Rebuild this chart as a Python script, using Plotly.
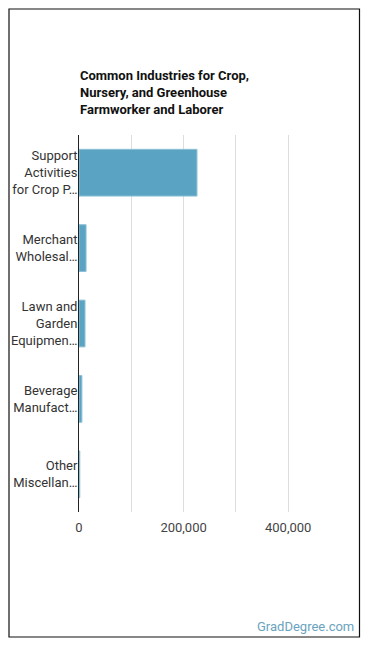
import plotly.graph_objects as go

categories = ["Support<br>Activities<br>for Crop P…", "Merchant<br>Wholesal…", "Lawn and<br>Garden<br>Equipmen…",
              "Beverage<br>Manufact…", "Other<br>Miscellan…"]
values = [225600, 13500, 11500, 5500, 1500]
tick_vals = [0, 200000, 400000]
tick_text = ["0", "200,000", "400,000"]

W, H = 370, 648
ml, mr, mt, mb = 79, 40, 135, 136
pw = W - ml - mr
ph = H - mt - mb

def px_x(x):
    return (x - ml) / pw

def px_y(y):
    return 1 - (y - mt) / ph

fig = go.Figure(go.Bar(
    x=values, y=categories, orientation="h",
    marker=dict(color="#5ba3c2", line=dict(color="#8cc0d6", width=1)),
    width=0.62,
))

fig.update_layout(
    width=W, height=H,
    margin=dict(l=ml, r=mr, t=mt, b=mb, autoexpand=False),
    paper_bgcolor="white", plot_bgcolor="white",
    font=dict(family="Roboto", size=13, color="#333"),
    showlegend=False,
    xaxis=dict(range=[0, 480000], tickvals=tick_vals, ticktext=tick_text,
               showgrid=True, gridcolor="#dddddd", gridwidth=1,
               minor=dict(dtick=100000, tick0=0, showgrid=True, gridcolor="#dddddd"),
               zeroline=False, showline=False, ticks="", ticklabelstandoff=6,
               automargin=False,
               tickfont=dict(size=13, color="#444")),
    yaxis=dict(categoryorder="array", categoryarray=categories[::-1],
               showline=True, linecolor="#222", linewidth=1, ticks="",
               ticklabelstandoff=-2, automargin=False,
               tickfont=dict(size=13, color="#333"), showgrid=False),
    annotations=[
        dict(text="<b>Common Industries for Crop,<br>Nursery, and Greenhouse<br>Farmworker and Laborer</b>",
             xref="paper", yref="paper", x=px_x(78), y=px_y(66), xanchor="left", yanchor="top",
             align="left", showarrow=False, font=dict(size=13, color="#111")),
        dict(text="GradDegree.com", xref="paper", yref="paper", x=px_x(356), y=px_y(626),
             xanchor="right", yanchor="middle", showarrow=False,
             font=dict(size=13, color="#6aa3c0")),
    ],
    shapes=[dict(type="rect", xref="paper", yref="paper",
                 x0=px_x(9), x1=px_x(359.5), y0=px_y(9), y1=px_y(637),
                 line=dict(color="#111", width=1.2), fillcolor="rgba(0,0,0,0)", layer="below")],
)

fig.write_html("out.html")
